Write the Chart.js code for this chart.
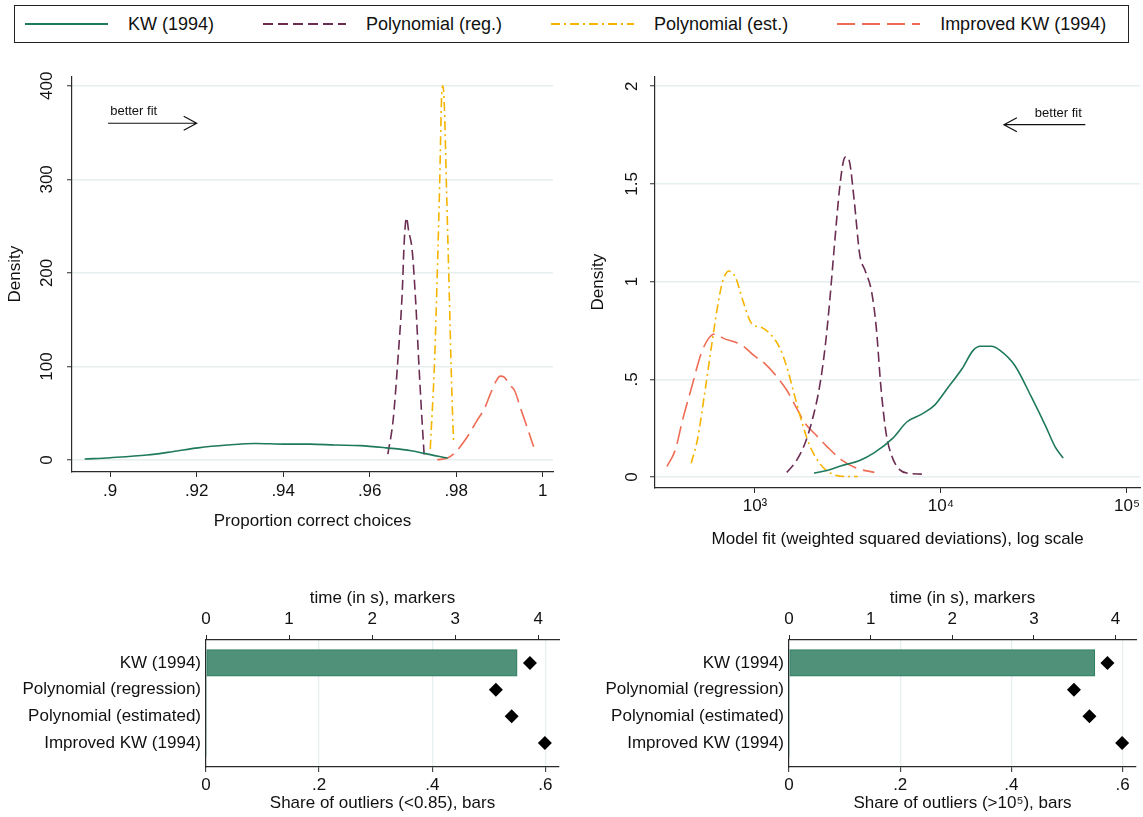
<!DOCTYPE html>
<html>
<head>
<meta charset="utf-8">
<script src="https://cdn.jsdelivr.net/npm/chart.js@4.4.1/dist/chart.umd.min.js"></script>
<style>
body { margin: 0; background: #fff; font-family: 'Liberation Sans', Arial, sans-serif; }
#wrap { position: relative; width: 1143px; height: 817px; overflow: hidden; background: #fff; }
#legend { position: absolute; left: 14px; top: 5px; width: 1115px; height: 38px; border: 1px solid #222; box-sizing: border-box;
  display: flex; align-items: center; padding-left: 10px; gap: 49px; font-size: 18px; color: #111; }
.item { display: flex; align-items: center; white-space: nowrap; }
.item svg { margin-right: 20px; }
canvas { position: absolute; }
</style>
</head>
<body>
<div id="wrap">
  <div id="legend"></div>
  <canvas id="accChart" width="570" height="500" style="left:0;top:60px"></canvas>
  <canvas id="fitChart" width="573" height="500" style="left:570px;top:60px"></canvas>
  <canvas id="outAccChart" width="570" height="237" style="left:0;top:580px"></canvas>
  <canvas id="outFitChart" width="573" height="237" style="left:570px;top:580px"></canvas>
</div>
<script>
// series shared by the density plots
const seriesNames = ['KW (1994)', 'Polynomial (reg.)', 'Polynomial (est.)', 'Improved KW (1994)'];
const seriesColors = ['#1f7a5c', '#6b2d52', '#f5b400', '#ef6d55'];
const seriesDash = [[], [10, 5], [9, 4, 2, 4], [18, 7]];

// top left: proportion of correct choices
const accKwX = [0.8941, 0.9, 0.9085, 0.9144, 0.9203, 0.927, 0.9336, 0.9403, 0.9462, 0.952, 0.9578, 0.9638, 0.9696, 0.9725, 0.978];
const accKwY = [1.1, 2.5, 5.3, 8.9, 13, 16, 17.7, 17, 17, 16, 15.4, 13, 10, 7.1, 2.1];
const accRegX = [0.9642, 0.9654, 0.9665, 0.9675, 0.968, 0.9685, 0.969, 0.9698, 0.9706, 0.9714, 0.9721, 0.9726];
const accRegY = [6.4, 42, 106, 177, 235, 259, 245, 225, 172, 100, 42, 4.6];
const accEstX = [0.974, 0.975, 0.9757, 0.9762, 0.9766, 0.9769, 0.9772, 0.9778, 0.9784, 0.979, 0.9794];
const accEstY = [11.8, 106, 212, 300, 385, 400, 385, 283, 177, 71, 17.9];
const accImpX = [0.9756, 0.978, 0.9798, 0.9825, 0.9848, 0.9865, 0.9879, 0.9891, 0.9902, 0.9911, 0.9925, 0.9935, 0.9948, 0.9964, 0.9979];
const accImpY = [0.4, 2.1, 8.2, 24.3, 42.2, 54.7, 70.7, 83.3, 89.7, 88.6, 79.7, 74.3, 56.5, 35, 14.3];
const accTicks = [0.9, 0.92, 0.94, 0.96, 0.98, 1];
const accTickLabels = ['.9', '.92', '.94', '.96', '.98', '1'];
const accDensTicks = [0, 100, 200, 300, 400];

// top right: model fit, log scale
const fitKwX = [2080, 2438, 2917, 3656, 4385, 5495, 6577, 7889, 9247, 10815, 12972, 14859, 16255, 18621, 20845, 24946, 30620, 36644, 41020, 45394];
const fitKwY = [0.02, 0.034, 0.058, 0.085, 0.125, 0.198, 0.283, 0.322, 0.368, 0.453, 0.554, 0.647, 0.669, 0.669, 0.647, 0.571, 0.41, 0.258, 0.156, 0.097];
const fitRegX = [1483, 1660, 1858, 2032, 2223, 2382, 2523, 2667, 2851, 2985, 3083, 3221, 3420, 3656, 3917, 4227, 4487, 4753, 5070, 5495, 6012, 6577, 7889];
const fitRegY = [0.024, 0.08, 0.173, 0.292, 0.461, 0.664, 0.902, 1.173, 1.478, 1.614, 1.639, 1.614, 1.41, 1.139, 1.054, 0.953, 0.766, 0.461, 0.224, 0.097, 0.037, 0.02, 0.015];
const fitEstX = [454, 490, 536, 586, 628, 671, 726, 787, 861, 964, 1079, 1208, 1355, 1483, 1622, 1774, 1945, 2223, 2547, 3055, 3573];
const fitEstY = [0.071, 0.19, 0.427, 0.681, 0.868, 1.003, 1.054, 1.02, 0.902, 0.783, 0.766, 0.732, 0.664, 0.563, 0.427, 0.292, 0.173, 0.071, 0.02, 0.003, 0.003];
const fitImpX = [336, 373, 408, 457, 513, 561, 608, 687, 787, 881, 986, 1130, 1294, 1483, 1660, 1858, 2128, 2438, 2917, 3499, 4385];
const fitImpY = [0.054, 0.139, 0.292, 0.461, 0.631, 0.707, 0.732, 0.707, 0.69, 0.664, 0.622, 0.58, 0.52, 0.444, 0.359, 0.275, 0.215, 0.156, 0.088, 0.046, 0.024];
const fitTicks = [1000, 10000, 100000];
const fitTickLabels = ['10\u00b3', '10\u2074', '10\u2075'];
const fitDensTicks = [0, 0.5, 1, 1.5, 2];
const fitDensTickLabels = ['0', '.5', '1', '1.5', '2'];

// bottom: outliers and run time
const methods = ['KW (1994)', 'Polynomial (regression)', 'Polynomial (estimated)', 'Improved KW (1994)'];
const outShareAcc = [0.55, 0, 0, 0];
const outShareFit = [0.55, 0, 0, 0];
const timeSec = [3.9, 3.49, 3.68, 4.08];
const shareTicks = [0, 0.2, 0.4, 0.6];
const shareTickLabels = ['0', '.2', '.4', '.6'];
const timeTicks = [0, 1, 2, 3, 4];

Chart.defaults.font.family = "'Liberation Sans', Arial, sans-serif";
Chart.defaults.color = '#111';

const axisColor = '#2a2a2a';
const gridColor = '#e6eef0';
const big = { size: 17 };

// legend
const legend = document.getElementById('legend');
seriesNames.forEach((name, i) => {
    let item = document.createElement('div');
    item.className = 'item';
    item.innerHTML = '<svg width="83" height="10"><line x1="0" y1="5" x2="83" y2="5" stroke="' + seriesColors[i] +
        '" stroke-width="2" stroke-dasharray="' + seriesDash[i].join(' ') + '"/></svg><span>' + name + '</span>';
    legend.appendChild(item);
});

function fixedTicks(values) {
    return function (scale) { scale.ticks = values.map(v => ({ value: v })); };
}

function curve(xs, ys, i) {
    return {
        label: seriesNames[i],
        data: xs.map((x, k) => ({ x: x, y: ys[k] })),
        borderColor: seriesColors[i],
        borderWidth: 1.6,
        borderDash: seriesDash[i],
        pointRadius: 0,
        cubicInterpolationMode: 'monotone',
        fill: false
    };
}

// "better fit" arrow, drawn in data coordinates
const arrowNote = {
    id: 'arrowNote',
    afterDatasetsDraw(chart, args, opts) {
        let ctx = chart.ctx, xs = chart.scales.x, ys = chart.scales.y;
        let x0 = xs.getPixelForValue(opts.from[0]), y0 = ys.getPixelForValue(opts.from[1]);
        let x1 = xs.getPixelForValue(opts.to[0]), y1 = ys.getPixelForValue(opts.to[1]);
        let dir = Math.sign(x1 - x0);
        ctx.save();
        ctx.strokeStyle = '#111';
        ctx.lineWidth = 1.2;
        ctx.beginPath();
        ctx.moveTo(x0, y0);
        ctx.lineTo(x1, y1);
        ctx.moveTo(x1 - dir * 13, y1 - 7);
        ctx.lineTo(x1, y1);
        ctx.lineTo(x1 - dir * 13, y1 + 7);
        ctx.stroke();
        ctx.font = "13px 'Liberation Sans', Arial, sans-serif";
        ctx.fillStyle = '#111';
        ctx.textAlign = opts.align;
        ctx.textBaseline = 'middle';
        ctx.fillText(opts.text, xs.getPixelForValue(opts.textAt[0]), ys.getPixelForValue(opts.textAt[1]));
        ctx.restore();
    }
};

function densityChart(id, datasets, cfg) {
    return new Chart(document.getElementById(id), {
        type: 'line',
        data: { datasets: datasets },
        plugins: [arrowNote],
        options: {
            responsive: false,
            animation: false,
            devicePixelRatio: 1,
            layout: { padding: { top: 14, right: cfg.padRight, left: 0, bottom: 0 } },
            plugins: { legend: { display: false }, tooltip: { enabled: false }, arrowNote: cfg.note },
            scales: {
                x: {
                    type: cfg.xType, min: cfg.xMin, max: cfg.xMax,
                    afterBuildTicks: fixedTicks(cfg.xTicks),
                    afterFit: s => { s.height = cfg.xHeight; },
                    ticks: { callback: (v, i) => cfg.xLabels[i], font: big, padding: cfg.xPad, maxRotation: 0, autoSkip: false },
                    grid: { drawOnChartArea: false, tickLength: 5, tickColor: axisColor, tickWidth: 1 },
                    border: { color: axisColor, width: 1.2 },
                    title: { display: true, text: cfg.xTitle, font: big, padding: { top: 0, bottom: cfg.xTitlePad } }
                },
                y: {
                    min: cfg.yMin, max: cfg.yMax,
                    afterBuildTicks: fixedTicks(cfg.yTicks),
                    afterFit: s => { s.width = cfg.yWidth; },
                    ticks: { callback: (v, i) => cfg.yLabels[i], font: big, padding: 6, minRotation: 90, maxRotation: 90, crossAlign: 'center' },
                    grid: { color: gridColor, lineWidth: 1.5, tickLength: 5, tickColor: axisColor, tickWidth: 1 },
                    border: { color: axisColor, width: 1.2 },
                    title: { display: true, text: 'Density', font: big, padding: { top: cfg.yTitlePad, bottom: 0 } }
                }
            }
        }
    });
}

densityChart('accChart', [
    curve(accKwX, accKwY, 0), curve(accRegX, accRegY, 1), curve(accEstX, accEstY, 2), curve(accImpX, accImpY, 3)
], {
    xType: 'linear', xMin: 0.89117, xMax: 1.00238, xTicks: accTicks, xLabels: accTickLabels,
    xHeight: 88, xPad: 4, xTitle: 'Proportion correct choices', xTitlePad: 28,
    yMin: -12.8, yMax: 410.3, yTicks: accDensTicks, yLabels: accDensTicks.map(String),
    yWidth: 72, yTitlePad: 5, padRight: 17,
    note: { from: [0.8995, 360], to: [0.92, 360], textAt: [0.9, 373], text: 'better fit', align: 'left' }
});

densityChart('fitChart', [
    curve(fitKwX, fitKwY, 0), curve(fitRegX, fitRegY, 1), curve(fitEstX, fitEstY, 2), curve(fitImpX, fitImpY, 3)
], {
    xType: 'logarithmic', xMin: 290, xMax: 118000, xTicks: fitTicks, xLabels: fitTickLabels,
    xHeight: 72, xPad: 3, xTitle: 'Model fit (weighted squared deviations), log scale', xTitlePad: 10,
    yMin: -0.056, yMax: 2.051, yTicks: fitDensTicks, yLabels: fitDensTickLabels,
    yWidth: 85, yTitlePad: 18, padRight: 2,
    note: { from: [59700, 1.803], to: [21800, 1.803], textAt: [57150, 1.86], text: 'better fit', align: 'right' }
});

function outlierChart(id, shares, xTitle, yWidth, padRight) {
    return new Chart(document.getElementById(id), {
        type: 'bar',
        data: {
            datasets: [
                {
                    type: 'scatter',
                    data: timeSec.map((t, i) => ({ x: t, y: i + 1 })),
                    xAxisID: 'x2', yAxisID: 'y',
                    pointStyle: 'rectRot', pointRadius: 7,
                    backgroundColor: '#000', borderColor: '#000', borderWidth: 0
                },
                {
                    type: 'bar',
                    data: shares.map((s, i) => ({ x: s, y: i + 1 })),
                    xAxisID: 'x', yAxisID: 'y',
                    backgroundColor: '#4f9179', borderColor: '#2a7d5f',
                    borderWidth: c => (c.raw && c.raw.x > 0 ? 1 : 0),
                    borderSkipped: false,
                    barPercentage: 1, categoryPercentage: 1
                }
            ]
        },
        options: {
            indexAxis: 'y',
            responsive: false,
            animation: false,
            devicePixelRatio: 1,
            layout: { padding: { top: 0, right: padRight, left: 0, bottom: 0 } },
            plugins: { legend: { display: false }, tooltip: { enabled: false } },
            scales: {
                x: {
                    type: 'linear', position: 'bottom', min: 0, max: 0.624,
                    afterBuildTicks: fixedTicks(shareTicks),
                    afterFit: s => { s.height = 50; },
                    ticks: { callback: (v, i) => shareTickLabels[i], font: big, padding: 3, maxRotation: 0 },
                    grid: { color: gridColor, lineWidth: 1.3, tickLength: 5, tickColor: axisColor, tickWidth: 1 },
                    border: { color: axisColor, width: 1.2 },
                    title: { display: true, text: xTitle, font: big, padding: { top: 0, bottom: 3 } }
                },
                x2: {
                    type: 'linear', position: 'top', min: 0, max: 4.25,
                    afterBuildTicks: fixedTicks(timeTicks),
                    afterFit: s => { s.height = 60; },
                    ticks: { font: big, padding: 5, maxRotation: 0 },
                    grid: { drawOnChartArea: false, tickLength: 5, tickColor: axisColor, tickWidth: 1 },
                    border: { color: axisColor, width: 1.2 },
                    title: { display: true, text: 'time (in s), markers', font: big, padding: { top: 8, bottom: 0 } }
                },
                y: {
                    type: 'linear', reverse: true, offset: false, min: 0.14, max: 4.9,
                    afterBuildTicks: fixedTicks([1, 2, 3, 4]),
                    afterFit: s => { s.width = yWidth; },
                    ticks: { callback: (v, i) => methods[i], font: big, padding: 5 },
                    grid: { display: false, drawTicks: false, tickLength: 0, offset: false },
                    border: { display: true, color: axisColor, width: 1.2 }
                }
            }
        }
    });
}

outlierChart('outAccChart', outShareAcc, 'Share of outliers (<0.85), bars', 206, 11);
outlierChart('outFitChart', outShareFit, 'Share of outliers (>10\u2075), bars', 219, 2);
</script>
</body>
</html>
